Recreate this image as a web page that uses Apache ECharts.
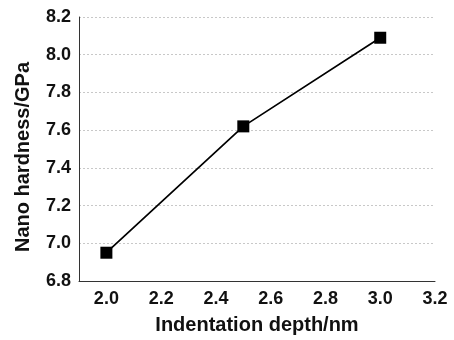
<!DOCTYPE html>
<html><head><meta charset="utf-8">
<script src="https://cdn.jsdelivr.net/npm/echarts@6/dist/echarts.min.js"></script>
<style>html,body{margin:0;padding:0;background:#fff}#c{width:454px;height:340px}</style>
</head><body><div id="c"></div>
<script>
const depth = [2.0, 2.5, 3.0];
const hardness = [6.95, 7.62, 8.09];
const xTicks = [2.0, 2.2, 2.4, 2.6, 2.8, 3.0, 3.2];
const xName = 'Indentation depth/nm';
const yName = 'Nano hardness/GPa';

const chart = echarts.init(document.getElementById('c'));
const font = 'Liberation Sans, Arial, sans-serif';
chart.setOption({
  animation: false,
  grid: {left: 79, right: 19, top: 17, bottom: 58},
  xAxis: {
    type: 'value', min: 1.9, max: 3.2,
    name: xName, nameLocation: 'middle', nameGap: 34,
    nameTextStyle: {fontFamily: font, fontWeight: 'bold', fontSize: 20, color: '#111'},
    axisLine: {show: true, lineStyle: {color: '#333', width: 1}},
    axisTick: {show: false},
    splitLine: {show: false},
    axisLabel: {customValues: xTicks, formatter: v => v.toFixed(1), fontFamily: font, fontWeight: 'bold', fontSize: 18, color: '#111', margin: 9}
  },
  yAxis: {
    type: 'value', min: 6.8, max: 8.2, interval: 0.2,
    name: yName, nameLocation: 'middle', nameGap: 46,
    nameTextStyle: {fontFamily: font, fontWeight: 'bold', fontSize: 20, color: '#111', padding: [0, 16, 0, 0]},
    axisLine: {show: true, lineStyle: {color: '#333', width: 1}},
    axisTick: {show: false},
    splitLine: {show: true, lineStyle: {color: '#c8c8c8', type: [2, 2], width: 1}},
    axisLabel: {formatter: v => v.toFixed(1), fontFamily: font, fontWeight: 'bold', fontSize: 18, color: '#111', margin: 8,
      showMinLabel: true, showMaxLabel: true}
  },
  series: [{
    type: 'line',
    data: depth.map((d, i) => [d, hardness[i]]),
    symbol: 'rect', symbolSize: 12,
    lineStyle: {color: '#000', width: 1.7},
    itemStyle: {color: '#000'}
  }]
});
</script></body></html>
